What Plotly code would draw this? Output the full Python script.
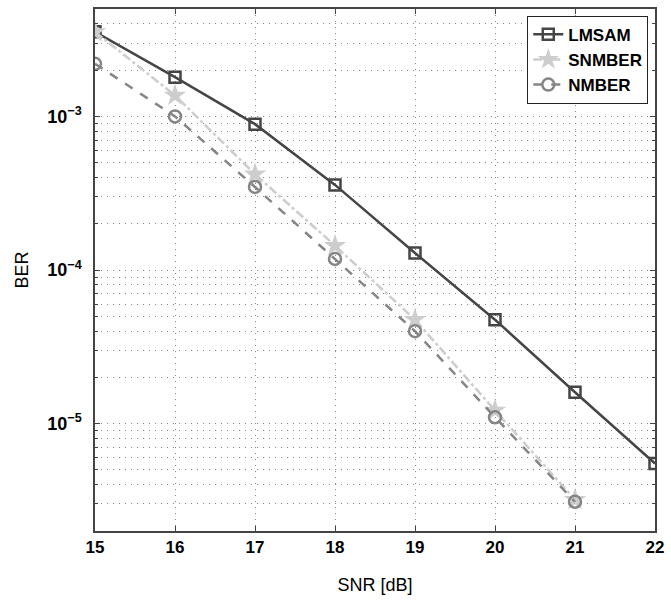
import plotly.graph_objects as go
import math

snr = [15, 16, 17, 18, 19, 20, 21, 22]
lmsam = [3.55e-3, 1.8e-3, 8.9e-4, 3.58e-4, 1.29e-4, 4.75e-5, 1.6e-5, 5.5e-6]
snr_b = [15, 16, 17, 18, 19, 20, 21]
snmber = [3.55e-3, 1.37e-3, 4.2e-4, 1.44e-4, 4.75e-5, 1.22e-5, 3.2e-6]
nmber = [2.2e-3, 1.0e-3, 3.47e-4, 1.18e-4, 4.0e-5, 1.1e-5, 3.1e-6]

ytickvals = [1e-5, 1e-4, 1e-3]
yticktext = ["10<sup>−5</sup>", "10<sup>−4</sup>", "10<sup>−3</sup>"]

fig = go.Figure()
fig.add_trace(go.Scatter(x=snr, y=lmsam, name="LMSAM", mode="lines+markers",
                         line=dict(color="#454545", width=2.5, dash="solid"),
                         marker=dict(symbol="square-open", size=11, color="#454545", line=dict(width=2.5))))
fig.add_trace(go.Scatter(x=snr_b, y=snmber, name="SNMBER", mode="lines+markers",
                         line=dict(color="#cdcdcd", width=2.5, dash="dashdot"),
                         marker=dict(symbol="star", size=17, color="#cdcdcd", line=dict(width=0))))
fig.add_trace(go.Scatter(x=snr_b, y=nmber, name="NMBER", mode="lines+markers",
                         line=dict(color="#858585", width=2.5, dash="dash"),
                         marker=dict(symbol="circle-open", size=12, color="#858585", line=dict(width=2.5))))

griddash = "1px,5px"
gridcolor = "#888"

fig.update_layout(
    width=671, height=601,
    margin=dict(l=95, r=11, t=7, b=70),
    paper_bgcolor="white", plot_bgcolor="white",
    font=dict(family="Liberation Sans, Arial", color="black", size=15),
    showlegend=True,
    legend=dict(x=0.988, y=0.987, xanchor="right", yanchor="top",
                bordercolor="#222", borderwidth=1, bgcolor="white",
                font=dict(size=17, family="Liberation Sans, Arial", weight="bold"),
                itemwidth=30, tracegroupgap=0),
)

fig.update_xaxes(range=[15, 22], dtick=1, tick0=15,
                 showgrid=True, gridcolor=gridcolor, griddash=griddash, gridwidth=1,
                 showline=True, linecolor="#444", linewidth=1.5, mirror="ticks",
                 ticks="inside", ticklen=5, tickcolor="#444",
                 tickfont=dict(size=17, weight="bold"),
                 title=dict(text="SNR [dB]", font=dict(size=18), standoff=22),
                 zeroline=False)
fig.update_yaxes(type="log", range=[math.log10(2e-6), math.log10(5e-3)],
                 tickvals=ytickvals, ticktext=yticktext,
                 showgrid=True, gridcolor=gridcolor, griddash=griddash, gridwidth=1,
                 showline=True, linecolor="#444", linewidth=1.5, mirror="ticks",
                 ticks="inside", ticklen=5, tickcolor="#444",
                 tickfont=dict(size=18, weight="bold"), ticklabelstandoff=8,
                 minor=dict(dtick="D1", showgrid=True, gridcolor=gridcolor, griddash=griddash,
                            ticks="inside", ticklen=3, tickcolor="#444"),
                 title=dict(text="BER", font=dict(size=18), standoff=14),
                 zeroline=False)

fig.write_html("out.html")
